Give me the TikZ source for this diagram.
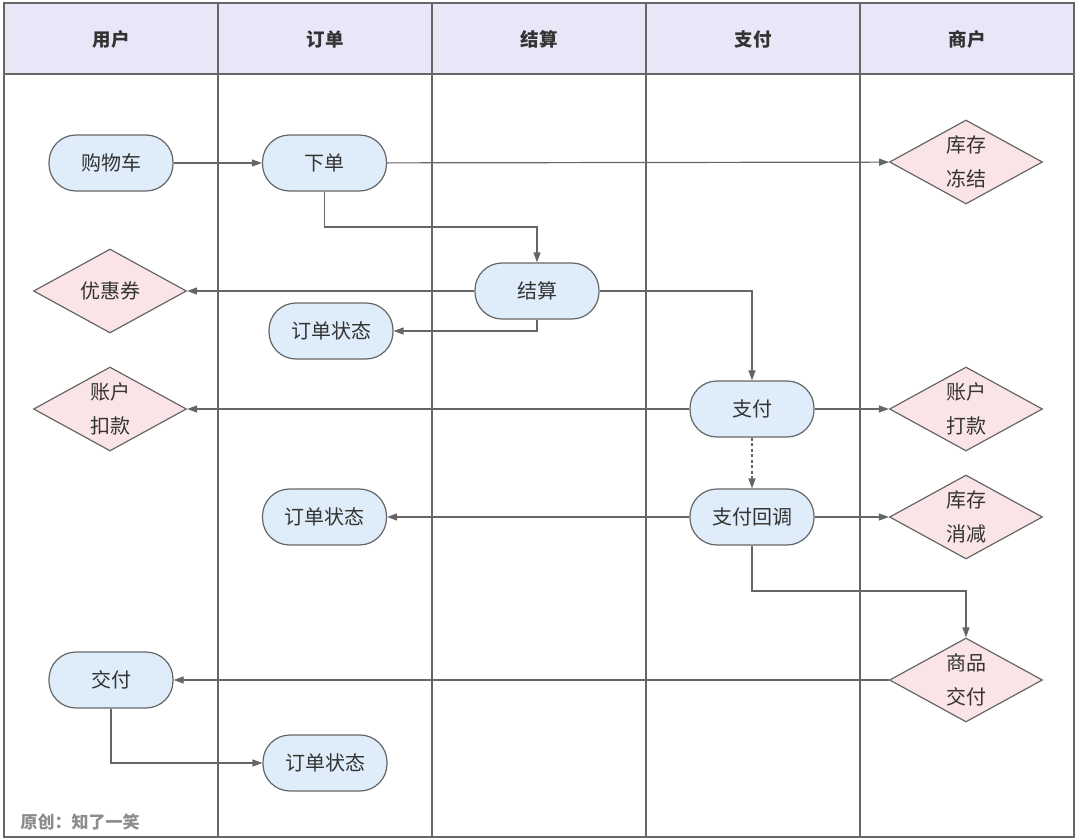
\documentclass[tikz,border=0pt]{standalone}
\usepackage{fontspec}
\setmainfont{Noto Sans CJK SC}
\usetikzlibrary{shapes.geometric,arrows.meta}
\definecolor{hdr}{HTML}{EAE6F8}
\definecolor{bluefill}{HTML}{DEEDF9}
\definecolor{pinkfill}{HTML}{FAE4E6}
\definecolor{edge}{HTML}{666666}
\definecolor{txt}{HTML}{333333}
\tikzset{
  frame/.style={draw=edge, line width=1.3pt},
  hdrtext/.style={font=\fontsize{18.5}{20}\selectfont\bfseries, text=txt},
  proc/.style={draw=edge, line width=1.2pt, fill=bluefill, rounded corners=27pt,
    minimum width=124pt, minimum height=56pt, inner sep=0pt,
    font=\fontsize{20}{22}\selectfont, text=txt},
  dec/.style={diamond, draw=edge, line width=1.2pt, fill=pinkfill, aspect=1.82,
    minimum width=153pt, minimum height=84pt, inner sep=0pt, align=center,
    font=\fontsize{20}{34}\selectfont, text=txt},
  conn/.style={draw=edge, line width=1.2pt, -{Triangle[length=10pt,width=7pt]}}
}
\begin{document}
\begin{tikzpicture}[x=1pt,y=-1pt]
\useasboundingbox (0,0) rectangle (1080,840);
% header band
\fill[hdr] (4,3) rectangle (1074,74);
\draw[frame] (4,3) rectangle (1074,837);
\draw[frame] (4,74) -- (1074,74);
\foreach \x in {218,432,646,860} \draw[frame] (\x,3) -- (\x,837);
\node[hdrtext] (h1) at (111,39) {用户};
\node[hdrtext] (h2) at (325,39) {订单};
\node[hdrtext] (h3) at (539,39) {结算};
\node[hdrtext] (h4) at (753,39) {支付};
\node[hdrtext] (h5) at (967,39) {商户};

% nodes
\node[proc] (cart) at (111,163) {购物车};
\node[proc] (order) at (324.5,163) {下单};
\node[dec] (freeze) at (966,162) {库存\\冻结};
\node[proc] (settle) at (537,291) {结算};
\node[dec] (coupon) at (110,291) {优惠券};
\node[proc] (st1) at (331,331) {订单状态};
\node[dec] (debit) at (110,409) {账户\\扣款};
\node[proc] (pay) at (752,409) {支付};
\node[dec] (credit) at (966,409) {账户\\打款};
\node[proc] (cb) at (752,517) {支付回调};
\node[dec] (reduce) at (966,517) {库存\\消减};
\node[proc] (st2) at (324.5,517) {订单状态};
\node[dec] (goods) at (966,680) {商品\\交付};
\node[proc] (deliver) at (111,680) {交付};
\node[proc] (st3) at (325,763) {订单状态};

% connectors
\draw[conn] (cart) -- (order);
\draw[conn] (order) -- (freeze);
\draw[conn] (order.south) |- (537,227) -- (settle.north);
\draw[conn] (settle) -- (coupon);
\draw[conn] (settle.south) |- (st1.east);
\draw[conn] (settle.east) -| (pay.north);
\draw[conn] (pay) -- (debit);
\draw[conn] (pay) -- (credit);
\draw[conn, dash pattern=on 3pt off 2.5pt] (pay) -- (cb);
\draw[conn] (cb) -- (st2);
\draw[conn] (cb) -- (reduce);
\draw[conn] (cb.south) |- (966,591) -- (goods.north);
\draw[conn] (goods) -- (deliver);
\draw[conn] (deliver.south) |- (st3.west);

\node[anchor=west, font=\fontsize{17}{19}\selectfont\bfseries, text=black!45] (footer) at (17,822) {原创：知了一笑};
\end{tikzpicture}
\end{document}
